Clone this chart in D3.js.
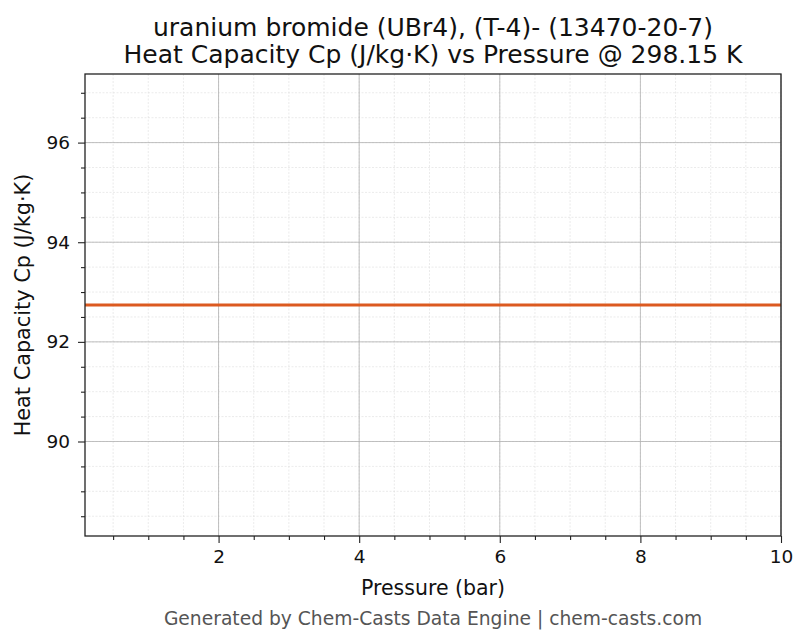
<!DOCTYPE html>
<html>
<head>
<meta charset="utf-8">
<script src="https://cdn.jsdelivr.net/npm/d3@7"></script>
<style>
  body { margin: 0; background: #fff; }
  svg { font-family: "DejaVu Sans", sans-serif; }
</style>
</head>
<body>
<div class="draw"></div>
<script>
// data
const pressure = [0.1, 10];
const heatCapacity = [92.74, 92.74];
const xTicks = [2, 4, 6, 8, 10];
const yTicks = [90, 92, 94, 96];
const titleLines = ["uranium bromide (UBr4), (T-4)- (13470-20-7)", "Heat Capacity Cp (J/kg·K) vs Pressure @ 298.15 K"];

const width = 810, height = 644;
const margin = { top: 74, right: 29, bottom: 108, left: 85 };
const graphWidth = width - margin.left - margin.right;
const graphHeight = height - margin.top - margin.bottom;

const svg = d3.select(".draw").append("svg")
    .attr("width", width)
    .attr("height", height);

const graph = svg.append("g")
    .attr("transform", `translate(${margin.left}, ${margin.top})`);

const data = pressure.map((p, i) => ({ p: p, cp: heatCapacity[i] }));
const cpVal = heatCapacity[0];

const x = d3.scaleLinear().domain([0.1, 10]).range([0, graphWidth]);
const y = d3.scaleLinear().domain([cpVal * 0.95, cpVal * 1.05]).range([graphHeight, 0]);

// minor grid
const xMinor = d3.range(0.5, 10.01, 0.5).filter(v => v >= 0.1);
const yMinor = d3.range(88.5, 97.4, 0.5);

graph.append("g").selectAll("line").data(xMinor).join("line")
    .attr("x1", d => x(d)).attr("x2", d => x(d))
    .attr("y1", 0).attr("y2", graphHeight)
    .attr("stroke", "#dddddd").attr("stroke-width", 0.6).attr("stroke-dasharray", "2,1.5");
graph.append("g").selectAll("line").data(yMinor).join("line")
    .attr("y1", d => y(d)).attr("y2", d => y(d))
    .attr("x1", 0).attr("x2", graphWidth)
    .attr("stroke", "#dddddd").attr("stroke-width", 0.6).attr("stroke-dasharray", "2,1.5");

// major grid
graph.append("g").selectAll("line").data(xTicks).join("line")
    .attr("x1", d => x(d)).attr("x2", d => x(d))
    .attr("y1", 0).attr("y2", graphHeight)
    .attr("stroke", "#b0b0b0").attr("stroke-width", 0.8);
graph.append("g").selectAll("line").data(yTicks).join("line")
    .attr("y1", d => y(d)).attr("y2", d => y(d))
    .attr("x1", 0).attr("x2", graphWidth)
    .attr("stroke", "#b0b0b0").attr("stroke-width", 0.8);

// line
const line = d3.line().x(d => x(d.p)).y(d => y(d.cp));
graph.append("path")
    .datum(data)
    .attr("fill", "none")
    .attr("stroke", "#dc5a20")
    .attr("stroke-width", 3)
    .attr("d", line);

// axes
const xAxisGroup = graph.append("g")
    .attr("transform", `translate(0, ${graphHeight})`)
    .call(d3.axisBottom(x).tickValues(xTicks).tickSize(7).tickPadding(7).tickFormat(d3.format("d")));
const yAxisGroup = graph.append("g")
    .call(d3.axisLeft(y).tickValues(yTicks).tickSize(7).tickPadding(8).tickFormat(d3.format("d")));

graph.append("g")
    .attr("transform", `translate(0, ${graphHeight})`)
    .call(d3.axisBottom(x).tickValues(xMinor.filter(v => !xTicks.includes(v))).tickSize(4).tickFormat(""));
graph.append("g")
    .call(d3.axisLeft(y).tickValues(yMinor.filter(v => !yTicks.includes(v))).tickSize(4).tickFormat(""));

svg.selectAll(".domain").remove();
svg.selectAll(".tick line").attr("stroke", "#222").attr("stroke-width", 1.1);
[xAxisGroup, yAxisGroup].forEach(g => g.selectAll("text")
    .attr("font-size", 18.5).attr("fill", "#111").style("font-family", "DejaVu Sans, sans-serif"));

// frame
graph.append("rect")
    .attr("width", graphWidth).attr("height", graphHeight)
    .attr("fill", "none").attr("stroke", "#222").attr("stroke-width", 1.3);

// labels
svg.append("text")
    .attr("x", margin.left + graphWidth / 2).attr("y", 595)
    .attr("text-anchor", "middle").attr("font-size", 20.5).attr("fill", "#111")
    .text("Pressure (bar)");
svg.append("text")
    .attr("transform", `translate(30, ${margin.top + graphHeight / 2}) rotate(-90)`)
    .attr("text-anchor", "middle").attr("font-size", 20.8).attr("fill", "#111")
    .text("Heat Capacity Cp (J/kg·K)");

svg.selectAll(".title").data(titleLines).join("text")
    .attr("class", "title")
    .attr("x", margin.left + graphWidth / 2)
    .attr("y", (d, i) => 36 + i * 27)
    .attr("text-anchor", "middle").attr("font-size", 25).attr("fill", "#111")
    .text(d => d);

svg.append("text")
    .attr("x", 433).attr("y", 625)
    .attr("text-anchor", "middle").attr("font-size", 18.7).attr("fill", "#555")
    .text("Generated by Chem-Casts Data Engine | chem-casts.com");
</script>
</body>
</html>
